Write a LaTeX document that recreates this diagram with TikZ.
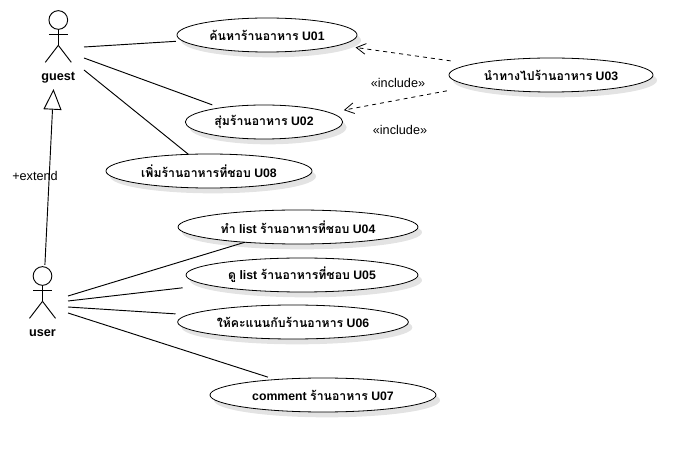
\documentclass[tikz,border=0pt]{standalone}
\usepackage{fontspec}
\setmainfont{Liberation Sans}
\newfontfamily\thaifont[Script=Thai]{Loma}
\newcommand{\thai}[1]{{\thaifont #1}}
\usetikzlibrary{shapes.geometric, arrows.meta, shadows}
\tikzset{
    usecase/.style={draw, ellipse, fill=white, inner sep=0pt, outer sep=0pt, minimum height=25.5pt,
        line width=0.6pt, font=\fontsize{9.2}{11}\selectfont\bfseries,
        drop shadow={shadow xshift=3pt, shadow yshift=-4pt, fill=black!18, opacity=0.6}},
    actorname/.style={font=\fontsize{9.5}{11}\selectfont\bfseries},
    notetext/.style={font=\fontsize{9.5}{11}\selectfont},
    assoc/.style={line width=0.7pt},
    includeline/.style={line width=0.6pt, dashed, -{Straight Barb[length=7pt, width=8pt]}},
    extendline/.style={line width=0.7pt, -{Triangle[open, fill=white, length=15.5pt, width=13.5pt]}}
}

\begin{document}
\begin{tikzpicture}[x=0.75pt, y=-0.75pt]
    \useasboundingbox (0,0) rectangle (693,452);

    % Draw the two actors
    \foreach \who/\x/\y in {guest/58.3/20, user/42.5/276} {
        \node[draw, circle, line width=0.7pt, minimum size=14pt, inner sep=0pt, outer sep=0pt] (\who head) at (\x,\y) {};
        \draw[line width=0.7pt] (\who head.south) -- ++(0,16) coordinate (\who hip);
        \draw[line width=0.7pt] ([xshift=-7pt, yshift=-4pt]\who head.south) -- ([xshift=7pt, yshift=-4pt]\who head.south);
        \draw[line width=0.7pt] (\who hip) -- ++(-13,17);
        \draw[line width=0.7pt] (\who hip) -- ++(13,17);
        \node[actorname] (\who) at (\x,\y+57.5) {\who};
    }

    % Use cases
    \node[usecase, minimum width=135pt] (u01) at (267,35) {\thai{ค้นหาร้านอาหาร} U01};
    \node[usecase, minimum width=118pt] (u02) at (264,122) {\thai{สุ่มร้านอาหาร} U02};
    \node[usecase, minimum width=153pt] (u03) at (551,75) {\thai{นำทางไปร้านอาหาร} U03};
    \node[usecase, minimum width=154.5pt] (u08) at (209,171) {\thai{เพิ่มร้านอาหารที่ชอบ} U08};
    \node[usecase, minimum width=180pt] (u04) at (298,227) {\thai{ทำ} list \thai{ร้านอาหารที่ชอบ} U04};
    \node[usecase, minimum width=174pt] (u05) at (302,275) {\thai{ดู} list \thai{ร้านอาหารที่ชอบ} U05};
    \node[usecase, minimum width=173pt] (u06) at (293,322) {\thai{ให้คะแนนกับร้านอาหาร} U06};
    \node[usecase, minimum width=169.5pt] (u07) at (323,395) {comment \thai{ร้านอาหาร} U07};

    % Free ends of the lines next to the actors
    \coordinate (guestA) at (84,47);
    \coordinate (guestB) at (84,58);
    \coordinate (guestC) at (84,70);
    \coordinate (userA) at (68,296);
    \coordinate (userB) at (68,301);
    \coordinate (userC) at (68,307);
    \coordinate (userD) at (68,313);

    % Guest lines
    \draw[assoc, shorten >=5pt] (guestA) -- (u01.184);
    \draw[assoc, shorten >=6.5pt] (guestB) -- (u02.162);
    \draw[assoc] (guestC) -- (u08.141);

    % User lines
    \draw[assoc] (userA) -- (u04.196);
    \draw[assoc, shorten >=19pt] (userB) -- (u05.186);
    \draw[assoc, shorten >=10pt] (userC) -- (u06.176);
    \draw[assoc, shorten >=6pt] (userD) -- (u07.162);

    % Include arrows
    \draw[includeline, shorten <=17pt, shorten >=12.4pt] (u03.172.5) -- (u01.352.4);
    \draw[includeline, shorten <=20pt, shorten >=10.6pt] (u03.188.5) -- (u02.8.5);
    \node[notetext] (includeA) at (398,83) {«include»};
    \node[notetext] (includeB) at (400,130) {«include»};

    % Generalisation from user to guest
    \draw[extendline] ([xshift=1.8pt, yshift=1.3pt]userhead.north) -- ([xshift=-3.6pt, yshift=-1pt]guest.south);
    \node[notetext] (extendlabel) at (35,176) {+extend};
\end{tikzpicture}
\end{document}
